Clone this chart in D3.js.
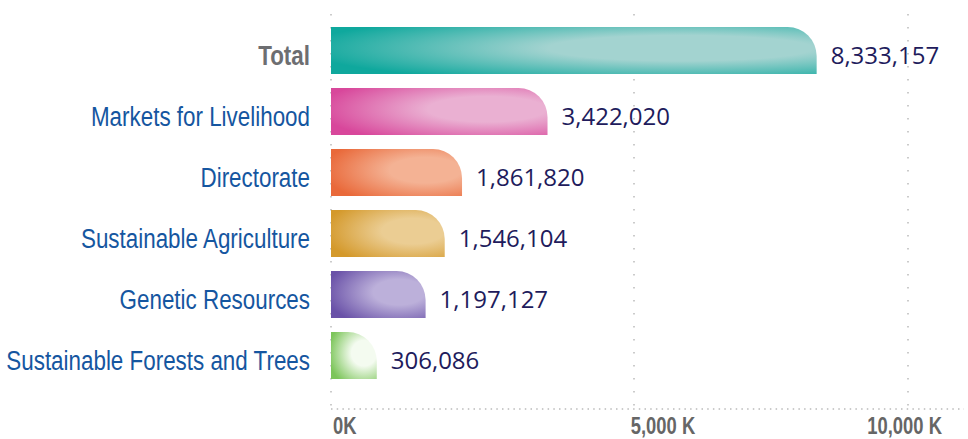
<!DOCTYPE html>
<html>
<head>
<meta charset="utf-8">
<script src="https://cdn.jsdelivr.net/npm/d3@7"></script>
<style>
  body { margin: 0; background: #fff; }
  .cat { font-family: "Liberation Sans", Arial, sans-serif; font-size: 28px; }
  .val { font-family: "Open Sans", sans-serif; font-size: 24px; fill: #211b5c; }
  .tick-label { font-family: "Liberation Sans", Arial, sans-serif; font-size: 23px; font-weight: bold; fill: #666; }
</style>
</head>
<body>
<div id="chart"></div>
<script>
// data
var categories = ["Total", "Markets for Livelihood", "Directorate", "Sustainable Agriculture", "Genetic Resources", "Sustainable Forests and Trees"];
var values = [8333157, 3422020, 1861820, 1546104, 1197127, 306086];
var colors = [["#0fa89d", "#a3d3d0"], ["#d8479b", "#eab0d2"], ["#e9693a", "#f4b294"], ["#d4992b", "#ebcd93"], ["#6a52a8", "#bcb0da"], ["#7cc55a", "#f4fbf0"]];
var tickValues = [0, 5000000, 10000000];
var tickLabels = ["0K", "5,000 K", "10,000 K"];

var width = 968, height = 439;
var margin = {top: 20, right: 24, bottom: 53, left: 331};
var cap = 29;      // rounded end cap that sits past the value
var narrow = 0.8;  // squeeze for the condensed label font

var svg = d3.select("#chart").append("svg")
    .attr("width", width)
    .attr("height", height);

var x = d3.scaleLinear()
    .domain([0, 10000000])
    .range([margin.left + cap, 908]);

var y = d3.scaleBand()
    .domain(categories)
    .range([margin.top, 386])
    .paddingInner(0.23)
    .paddingOuter(0.115);

var axisY = 409;

// gradients
var defs = svg.append("defs");
categories.forEach(function(c, i) {
    var g = defs.append("radialGradient")
        .attr("id", "grad" + i)
        .attr("cx", 0.72).attr("cy", 0.45)
        .attr("fx", 0.72).attr("fy", 0.45)
        .attr("r", 0.78);
    g.append("stop").attr("offset", "0%").attr("stop-color", colors[i][1]);
    g.append("stop").attr("offset", "35%").attr("stop-color", colors[i][1]);
    g.append("stop").attr("offset", "100%").attr("stop-color", colors[i][0]);
});

// grid lines (dotted)
var gridX = tickValues.map(function(v) { return v === 0 ? margin.left : x(v); });
svg.append("g").selectAll("line")
    .data(gridX)
    .enter().append("line")
    .attr("x1", function(d) { return d; })
    .attr("x2", function(d) { return d; })
    .attr("y1", 14)
    .attr("y2", axisY)
    .attr("stroke", "#bbb")
    .attr("stroke-width", 1.5)
    .attr("stroke-dasharray", "1.5,11.5");

svg.append("line")
    .attr("x1", margin.left)
    .attr("x2", width - 4)
    .attr("y1", axisY)
    .attr("y2", axisY)
    .attr("stroke", "#bbb")
    .attr("stroke-width", 1.5)
    .attr("stroke-dasharray", "1.5,4.2");

// bars
function barPath(v, c) {
    var x0 = margin.left, x1 = x(v),
        t = y(c), b = t + y.bandwidth(), r = cap;
    return "M" + x0 + "," + b + "L" + x0 + "," + t + "L" + (x1 - r) + "," + t +
        "A" + r + "," + r + " 0 0 1 " + x1 + "," + (t + r) + "L" + x1 + "," + b + "Z";
}

svg.append("g").selectAll("path")
    .data(values)
    .enter().append("path")
    .attr("d", function(d, i) { return barPath(d, categories[i]); })
    .attr("fill", function(d, i) { return "url(#grad" + i + ")"; });

// value labels
svg.append("g").selectAll("text")
    .data(values)
    .enter().append("text")
    .attr("class", "val")
    .attr("x", function(d) { return x(d) + 14; })
    .attr("y", function(d, i) { return y(categories[i]) + y.bandwidth() / 2 + 13; })
    .text(function(d) { return d3.format(",")(d); });

// category labels
svg.append("g").selectAll("text")
    .data(categories)
    .enter().append("text")
    .attr("class", "cat")
    .attr("transform", function(d) {
        return "translate(310," + (y(d) + y.bandwidth() / 2 + 14) + ") scale(" + narrow + ",1)";
    })
    .attr("text-anchor", "end")
    .attr("font-weight", function(d, i) { return i === 0 ? "bold" : "normal"; })
    .attr("fill", function(d, i) { return i === 0 ? "#6d6e71" : "#1556a0"; })
    .text(function(d) { return d; });

// x tick labels, kept inside the picture
svg.append("g").selectAll("text")
    .data(tickValues)
    .enter().append("text")
    .attr("class", "tick-label")
    .text(function(d, i) { return tickLabels[i]; })
    .attr("transform", function(d, i) {
        var w = this.getComputedTextLength() * narrow;
        var left = i === 0 ? margin.left + 2 : x(d) + cap - w / 2;
        left = Math.min(left, width - 26 - w);
        return "translate(" + left + ",434) scale(" + narrow + ",1)";
    });
</script>
</body>
</html>
